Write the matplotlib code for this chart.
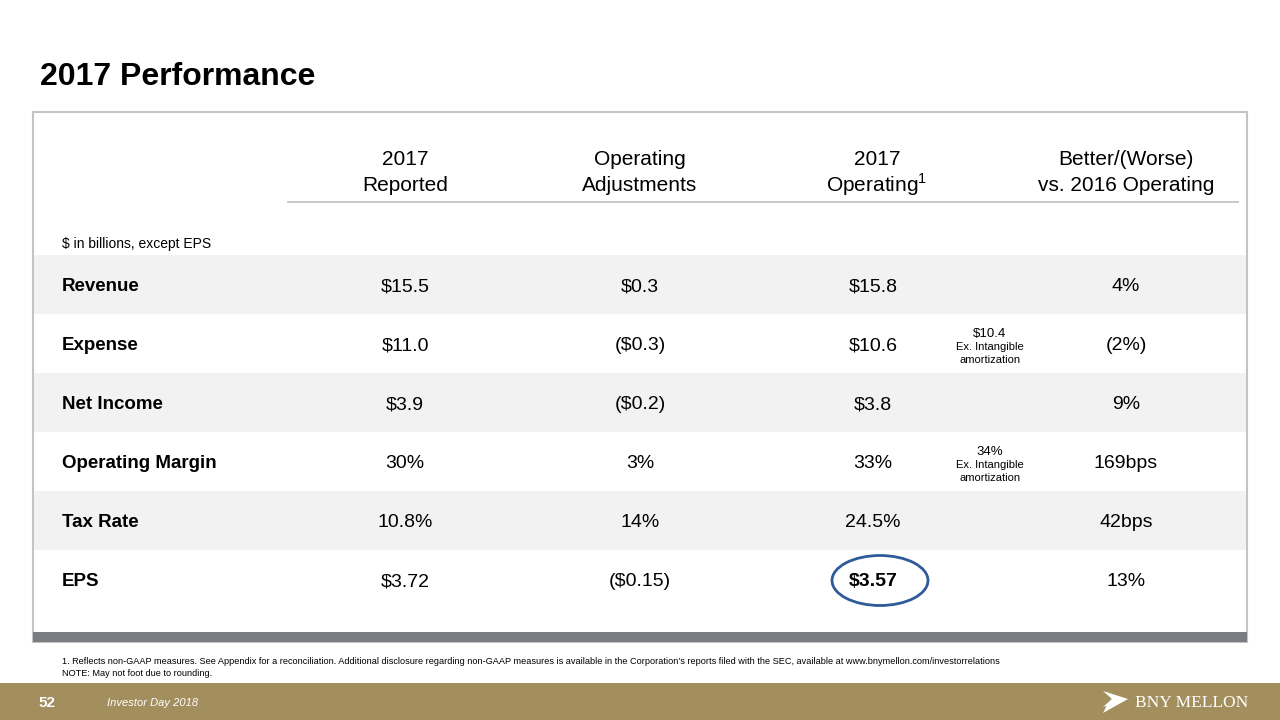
import matplotlib
matplotlib.use("Agg")
import matplotlib.pyplot as plt
from matplotlib.patches import Rectangle, Ellipse, Polygon

plt.rcParams['font.family'] = ['Liberation Sans', 'DejaVu Sans']

# table data
columns = ["2017\nReported", "Operating\nAdjustments", "2017\nOperating$^{\\mathregular{1}}$",
           "Better/(Worse)\nvs. 2016 Operating"]
rows = ["Revenue", "Expense", "Net Income", "Operating Margin", "Tax Rate", "EPS"]
reported = ["$15.5", "$11.0", "$3.9", "30%", "10.8%", "$3.72"]
adjustments = ["$0.3", "($0.3)", "($0.2)", "3%", "14%", "($0.15)"]
operating = ["$15.8", "$10.6", "$3.8", "33%", "24.5%", "$3.57"]
vs_2016 = ["4%", "(2%)", "9%", "169bps", "42bps", "13%"]
side_notes = {1: "$10.4", 3: "34%"}

fig = plt.figure(figsize=(12.8, 7.2), dpi=100)
ax = fig.add_axes([0, 0, 1, 1])
ax.set_xlim(0, 1280)
ax.set_ylim(720, 0)
ax.axis('off')


def cap_text(x, y, s, size, **kw):
    # place text so that its cap height is centred on y (pixel coords)
    ax.text(x, y + size * 100 / 72 * 0.716 / 2, s, fontsize=size, va='baseline', **kw)


# title
cap_text(40, 74, "2017 Performance", 23, fontweight='bold', ha='left')

# outer box
ax.add_patch(Rectangle((33, 112), 1214, 530, fill=False, ec='#c4c4c4', lw=1.5))
ax.add_patch(Rectangle((33, 632), 1214, 10, color='#7a7e83', lw=0))

# header
col_x = [405, 640, 877, 1126]
for x, lbl in zip(col_x, columns):
    l1, l2 = lbl.split("\n")
    cap_text(x, 158, l1, 15, ha='center')
    cap_text(x, 184, l2, 15, ha='center')
ax.plot([288, 1238], [202, 202], color='#bfbfbf', lw=1.2)
cap_text(62, 243, "$ in billions, except EPS", 10, ha='left')

# rows
row_top = 255
row_h = 59
for i, name in enumerate(rows):
    y0 = row_top + i * row_h
    yc = y0 + row_h / 2
    if i % 2 == 0:
        ax.add_patch(Rectangle((34, y0), 1212, row_h, color='#f2f2f2', lw=0))
    cap_text(62, yc, name, 13.5, fontweight='bold', ha='left')
    bold_op = (name == "EPS")
    for x, v in zip(col_x, [reported[i], adjustments[i], operating[i], vs_2016[i]]):
        cap_text(x - (4 if x == 877 else 0), yc, v, 14, ha='center',
                 fontweight='bold' if (bold_op and x == 877) else 'normal')
    if i in side_notes:
        cap_text(990, yc - 11, side_notes[i], 9.5, ha='center')
        cap_text(990, yc + 3, "Ex. Intangible", 8, ha='center')
        cap_text(990, yc + 16, "amortization", 8, ha='center')

# highlight circle on operating EPS
eps_y = row_top + 5 * row_h + row_h / 2
ax.add_patch(Ellipse((880, eps_y + 1), 96, 50, fill=False, ec='#2f5b9b', lw=2))

# footnotes
cap_text(62, 661, "1. Reflects non-GAAP measures. See Appendix for a reconciliation. Additional disclosure regarding "
         "non-GAAP measures is available in the Corporation\u2019s reports filed with the SEC, available at "
         "www.bnymellon.com/investorrelations", 6.6, ha='left')
cap_text(62, 673, "NOTE: May not foot due to rounding.", 6.6, ha='left')

# footer bar
ax.add_patch(Rectangle((0, 683), 1280, 37, color='#a38f5e', lw=0))
cap_text(38, 702, "52", 11, fontweight='bold', color='white', ha='left')
cap_text(107, 702, "Investor Day 2018", 8, style='italic', color='white', ha='left')
ax.add_patch(Polygon([(1103, 691), (1128, 699), (1103, 707), (1112, 699)], closed=True, color='white', lw=0))
ax.add_patch(Polygon([(1112, 699), (1128, 699), (1103, 713), (1107, 705)], closed=True, color='white', lw=0))
cap_text(1135, 701, "BNY MELLON", 12.5, family='Liberation Serif', color='white', ha='left')

fig.savefig("out.png", dpi=100)
